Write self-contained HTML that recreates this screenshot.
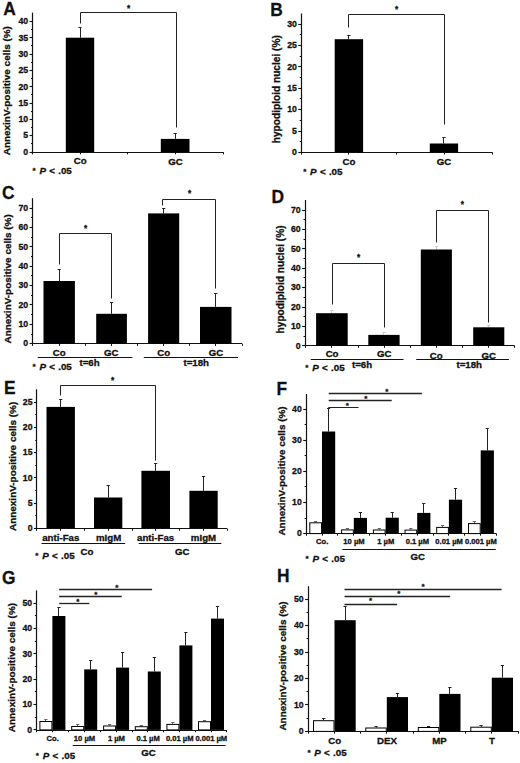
<!DOCTYPE html>
<html><head><meta charset="utf-8"><title>Figure</title>
<style>
html,body{margin:0;padding:0;background:#fff;}
body{width:520px;height:763px;overflow:hidden;}
svg{display:block;}
text{font-family:"Liberation Sans",sans-serif;font-weight:bold;fill:#111;stroke:#111;stroke-width:0.3px;}
</style></head>
<body>
<svg width="520" height="763" viewBox="0 0 520 763">
<rect width="520" height="763" fill="#fff"/>
<text transform="translate(3.20,14.90) scale(0.93,1)" font-size="18.7">A</text>
<line x1="32.50" y1="12.60" x2="32.50" y2="152.60" stroke="#111" stroke-width="1.2"/>
<line x1="29.60" y1="152.50" x2="32.60" y2="152.50" stroke="#111" stroke-width="1.1"/>
<text transform="translate(28.20,154.80) scale(0.97,1)" font-size="9.0" text-anchor="end">0</text>
<line x1="29.60" y1="135.50" x2="32.60" y2="135.50" stroke="#111" stroke-width="1.1"/>
<text transform="translate(28.20,138.47) scale(0.97,1)" font-size="9.0" text-anchor="end">5</text>
<line x1="29.60" y1="119.50" x2="32.60" y2="119.50" stroke="#111" stroke-width="1.1"/>
<text transform="translate(28.20,122.15) scale(0.97,1)" font-size="9.0" text-anchor="end">10</text>
<line x1="29.60" y1="103.50" x2="32.60" y2="103.50" stroke="#111" stroke-width="1.1"/>
<text transform="translate(28.20,105.83) scale(0.97,1)" font-size="9.0" text-anchor="end">15</text>
<line x1="29.60" y1="86.50" x2="32.60" y2="86.50" stroke="#111" stroke-width="1.1"/>
<text transform="translate(28.20,89.50) scale(0.97,1)" font-size="9.0" text-anchor="end">20</text>
<line x1="29.60" y1="70.50" x2="32.60" y2="70.50" stroke="#111" stroke-width="1.1"/>
<text transform="translate(28.20,73.18) scale(0.97,1)" font-size="9.0" text-anchor="end">25</text>
<line x1="29.60" y1="54.50" x2="32.60" y2="54.50" stroke="#111" stroke-width="1.1"/>
<text transform="translate(28.20,56.85) scale(0.97,1)" font-size="9.0" text-anchor="end">30</text>
<line x1="29.60" y1="37.50" x2="32.60" y2="37.50" stroke="#111" stroke-width="1.1"/>
<text transform="translate(28.20,40.53) scale(0.97,1)" font-size="9.0" text-anchor="end">35</text>
<line x1="29.60" y1="21.50" x2="32.60" y2="21.50" stroke="#111" stroke-width="1.1"/>
<text transform="translate(28.20,24.20) scale(0.97,1)" font-size="9.0" text-anchor="end">40</text>
<line x1="31.00" y1="143.50" x2="32.60" y2="143.50" stroke="#111" stroke-width="1.0"/>
<line x1="31.00" y1="127.50" x2="32.60" y2="127.50" stroke="#111" stroke-width="1.0"/>
<line x1="31.00" y1="111.50" x2="32.60" y2="111.50" stroke="#111" stroke-width="1.0"/>
<line x1="31.00" y1="94.50" x2="32.60" y2="94.50" stroke="#111" stroke-width="1.0"/>
<line x1="31.00" y1="78.50" x2="32.60" y2="78.50" stroke="#111" stroke-width="1.0"/>
<line x1="31.00" y1="62.50" x2="32.60" y2="62.50" stroke="#111" stroke-width="1.0"/>
<line x1="31.00" y1="45.50" x2="32.60" y2="45.50" stroke="#111" stroke-width="1.0"/>
<line x1="31.00" y1="29.50" x2="32.60" y2="29.50" stroke="#111" stroke-width="1.0"/>
<line x1="32.60" y1="152.50" x2="223.10" y2="152.50" stroke="#111" stroke-width="1.2"/>
<line x1="32.50" y1="152.10" x2="32.50" y2="154.30" stroke="#111" stroke-width="1.0"/>
<line x1="80.50" y1="152.10" x2="80.50" y2="154.30" stroke="#111" stroke-width="1.0"/>
<line x1="127.50" y1="152.10" x2="127.50" y2="154.30" stroke="#111" stroke-width="1.0"/>
<line x1="175.50" y1="152.10" x2="175.50" y2="154.30" stroke="#111" stroke-width="1.0"/>
<line x1="223.50" y1="152.10" x2="223.50" y2="154.30" stroke="#111" stroke-width="1.0"/>
<line x1="80.50" y1="27.70" x2="80.50" y2="37.70" stroke="#222" stroke-width="1.0"/>
<line x1="78.40" y1="27.50" x2="81.60" y2="27.50" stroke="#222" stroke-width="1.0"/>
<rect x="65.80" y="37.70" width="28.40" height="114.40" fill="#000"/>
<line x1="175.50" y1="133.00" x2="175.50" y2="138.90" stroke="#222" stroke-width="1.0"/>
<line x1="173.55" y1="133.50" x2="176.75" y2="133.50" stroke="#222" stroke-width="1.0"/>
<rect x="160.80" y="138.90" width="28.70" height="13.20" fill="#000"/>
<path d="M80.5,23.5 V12.5 H176.5 V127.5" fill="none" stroke="#222" stroke-width="1.0"/>
<text x="128.50" y="10.74" font-size="8.2" text-anchor="middle">*</text>
<text x="80.20" y="164.30" font-size="9.7" text-anchor="middle">Co</text>
<text x="175.40" y="164.50" font-size="9.7" text-anchor="middle">GC</text>
<text x="32.50" y="173.30" font-size="8.0" text-anchor="start">*</text>
<text x="39.40" y="174.20" font-size="9.8" font-style="italic">P</text>
<text x="49.20" y="174.20" font-size="9.8" text-anchor="start">&lt;</text>
<text x="58.20" y="174.20" font-size="9.8" text-anchor="start">.05</text>
<text transform="translate(10.30,155.30) rotate(-90)" font-size="9.95">AnnexinV-positive cells (%)</text>
<text transform="translate(270.30,16.10) scale(0.93,1)" font-size="18.7">B</text>
<line x1="301.50" y1="13.50" x2="301.50" y2="152.90" stroke="#111" stroke-width="1.2"/>
<line x1="298.30" y1="152.50" x2="301.30" y2="152.50" stroke="#111" stroke-width="1.1"/>
<text transform="translate(296.90,155.10) scale(0.97,1)" font-size="9.0" text-anchor="end">0</text>
<line x1="298.30" y1="131.50" x2="301.30" y2="131.50" stroke="#111" stroke-width="1.1"/>
<text transform="translate(296.90,133.73) scale(0.97,1)" font-size="9.0" text-anchor="end">5</text>
<line x1="298.30" y1="109.50" x2="301.30" y2="109.50" stroke="#111" stroke-width="1.1"/>
<text transform="translate(296.90,112.37) scale(0.97,1)" font-size="9.0" text-anchor="end">10</text>
<line x1="298.30" y1="88.50" x2="301.30" y2="88.50" stroke="#111" stroke-width="1.1"/>
<text transform="translate(296.90,91.00) scale(0.97,1)" font-size="9.0" text-anchor="end">15</text>
<line x1="298.30" y1="66.50" x2="301.30" y2="66.50" stroke="#111" stroke-width="1.1"/>
<text transform="translate(296.90,69.63) scale(0.97,1)" font-size="9.0" text-anchor="end">20</text>
<line x1="298.30" y1="45.50" x2="301.30" y2="45.50" stroke="#111" stroke-width="1.1"/>
<text transform="translate(296.90,48.27) scale(0.97,1)" font-size="9.0" text-anchor="end">25</text>
<line x1="298.30" y1="24.50" x2="301.30" y2="24.50" stroke="#111" stroke-width="1.1"/>
<text transform="translate(296.90,26.90) scale(0.97,1)" font-size="9.0" text-anchor="end">30</text>
<line x1="299.70" y1="141.50" x2="301.30" y2="141.50" stroke="#111" stroke-width="1.0"/>
<line x1="299.70" y1="120.50" x2="301.30" y2="120.50" stroke="#111" stroke-width="1.0"/>
<line x1="299.70" y1="98.50" x2="301.30" y2="98.50" stroke="#111" stroke-width="1.0"/>
<line x1="299.70" y1="77.50" x2="301.30" y2="77.50" stroke="#111" stroke-width="1.0"/>
<line x1="299.70" y1="56.50" x2="301.30" y2="56.50" stroke="#111" stroke-width="1.0"/>
<line x1="299.70" y1="34.50" x2="301.30" y2="34.50" stroke="#111" stroke-width="1.0"/>
<line x1="301.30" y1="152.50" x2="492.30" y2="152.50" stroke="#111" stroke-width="1.2"/>
<line x1="301.50" y1="152.40" x2="301.50" y2="154.60" stroke="#111" stroke-width="1.0"/>
<line x1="348.50" y1="152.40" x2="348.50" y2="154.60" stroke="#111" stroke-width="1.0"/>
<line x1="396.50" y1="152.40" x2="396.50" y2="154.60" stroke="#111" stroke-width="1.0"/>
<line x1="444.50" y1="152.40" x2="444.50" y2="154.60" stroke="#111" stroke-width="1.0"/>
<line x1="492.50" y1="152.40" x2="492.50" y2="154.60" stroke="#111" stroke-width="1.0"/>
<line x1="348.50" y1="35.70" x2="348.50" y2="39.20" stroke="#222" stroke-width="1.0"/>
<line x1="347.30" y1="35.50" x2="350.50" y2="35.50" stroke="#222" stroke-width="1.0"/>
<rect x="334.70" y="39.20" width="28.40" height="113.20" fill="#000"/>
<line x1="443.50" y1="137.90" x2="443.50" y2="143.50" stroke="#222" stroke-width="1.0"/>
<line x1="442.35" y1="137.50" x2="445.55" y2="137.50" stroke="#222" stroke-width="1.0"/>
<rect x="429.80" y="143.50" width="28.30" height="8.90" fill="#000"/>
<path d="M348.5,27.5 V14.5 H444.5 V124.5" fill="none" stroke="#222" stroke-width="1.0"/>
<text x="396.50" y="11.54" font-size="8.2" text-anchor="middle">*</text>
<text x="348.90" y="164.60" font-size="9.7" text-anchor="middle">Co</text>
<text x="444.00" y="164.80" font-size="9.7" text-anchor="middle">GC</text>
<text x="303.20" y="174.10" font-size="8.0" text-anchor="start">*</text>
<text x="310.10" y="175.00" font-size="9.8" font-style="italic">P</text>
<text x="319.90" y="175.00" font-size="9.8" text-anchor="start">&lt;</text>
<text x="328.90" y="175.00" font-size="9.8" text-anchor="start">.05</text>
<text transform="translate(279.70,143.20) rotate(-90)" font-size="10.15">hypodiploid nuclei (%)</text>
<text transform="translate(2.10,198.50) scale(0.93,1)" font-size="18.7">C</text>
<line x1="32.50" y1="198.20" x2="32.50" y2="344.20" stroke="#111" stroke-width="1.2"/>
<line x1="29.60" y1="343.50" x2="32.60" y2="343.50" stroke="#111" stroke-width="1.1"/>
<text transform="translate(28.20,346.40) scale(0.97,1)" font-size="9.0" text-anchor="end">0</text>
<line x1="29.60" y1="324.50" x2="32.60" y2="324.50" stroke="#111" stroke-width="1.1"/>
<text transform="translate(28.20,327.04) scale(0.97,1)" font-size="9.0" text-anchor="end">10</text>
<line x1="29.60" y1="304.50" x2="32.60" y2="304.50" stroke="#111" stroke-width="1.1"/>
<text transform="translate(28.20,307.69) scale(0.97,1)" font-size="9.0" text-anchor="end">20</text>
<line x1="29.60" y1="285.50" x2="32.60" y2="285.50" stroke="#111" stroke-width="1.1"/>
<text transform="translate(28.20,288.33) scale(0.97,1)" font-size="9.0" text-anchor="end">30</text>
<line x1="29.60" y1="266.50" x2="32.60" y2="266.50" stroke="#111" stroke-width="1.1"/>
<text transform="translate(28.20,268.97) scale(0.97,1)" font-size="9.0" text-anchor="end">40</text>
<line x1="29.60" y1="246.50" x2="32.60" y2="246.50" stroke="#111" stroke-width="1.1"/>
<text transform="translate(28.20,249.61) scale(0.97,1)" font-size="9.0" text-anchor="end">50</text>
<line x1="29.60" y1="227.50" x2="32.60" y2="227.50" stroke="#111" stroke-width="1.1"/>
<text transform="translate(28.20,230.26) scale(0.97,1)" font-size="9.0" text-anchor="end">60</text>
<line x1="29.60" y1="208.50" x2="32.60" y2="208.50" stroke="#111" stroke-width="1.1"/>
<text transform="translate(28.20,210.90) scale(0.97,1)" font-size="9.0" text-anchor="end">70</text>
<line x1="31.00" y1="334.50" x2="32.60" y2="334.50" stroke="#111" stroke-width="1.0"/>
<line x1="31.00" y1="314.50" x2="32.60" y2="314.50" stroke="#111" stroke-width="1.0"/>
<line x1="31.00" y1="295.50" x2="32.60" y2="295.50" stroke="#111" stroke-width="1.0"/>
<line x1="31.00" y1="275.50" x2="32.60" y2="275.50" stroke="#111" stroke-width="1.0"/>
<line x1="31.00" y1="256.50" x2="32.60" y2="256.50" stroke="#111" stroke-width="1.0"/>
<line x1="31.00" y1="237.50" x2="32.60" y2="237.50" stroke="#111" stroke-width="1.0"/>
<line x1="31.00" y1="217.50" x2="32.60" y2="217.50" stroke="#111" stroke-width="1.0"/>
<line x1="32.60" y1="343.50" x2="242.00" y2="343.50" stroke="#111" stroke-width="1.2"/>
<line x1="32.50" y1="343.70" x2="32.50" y2="345.90" stroke="#111" stroke-width="1.0"/>
<line x1="59.50" y1="343.70" x2="59.50" y2="345.90" stroke="#111" stroke-width="1.0"/>
<line x1="85.50" y1="343.70" x2="85.50" y2="345.90" stroke="#111" stroke-width="1.0"/>
<line x1="111.50" y1="343.70" x2="111.50" y2="345.90" stroke="#111" stroke-width="1.0"/>
<line x1="137.50" y1="343.70" x2="137.50" y2="345.90" stroke="#111" stroke-width="1.0"/>
<line x1="163.50" y1="343.70" x2="163.50" y2="345.90" stroke="#111" stroke-width="1.0"/>
<line x1="189.50" y1="343.70" x2="189.50" y2="345.90" stroke="#111" stroke-width="1.0"/>
<line x1="215.50" y1="343.70" x2="215.50" y2="345.90" stroke="#111" stroke-width="1.0"/>
<line x1="242.50" y1="343.70" x2="242.50" y2="345.90" stroke="#111" stroke-width="1.0"/>
<line x1="59.50" y1="269.50" x2="59.50" y2="281.00" stroke="#222" stroke-width="1.0"/>
<line x1="57.60" y1="269.50" x2="60.80" y2="269.50" stroke="#222" stroke-width="1.0"/>
<rect x="43.50" y="281.00" width="31.40" height="62.70" fill="#000"/>
<line x1="111.50" y1="302.00" x2="111.50" y2="313.80" stroke="#222" stroke-width="1.0"/>
<line x1="109.95" y1="302.50" x2="113.15" y2="302.50" stroke="#222" stroke-width="1.0"/>
<rect x="96.20" y="313.80" width="30.70" height="29.90" fill="#000"/>
<line x1="163.50" y1="208.30" x2="163.50" y2="213.40" stroke="#222" stroke-width="1.0"/>
<line x1="162.05" y1="208.50" x2="165.25" y2="208.50" stroke="#222" stroke-width="1.0"/>
<rect x="148.10" y="213.40" width="31.10" height="130.30" fill="#000"/>
<line x1="215.50" y1="293.80" x2="215.50" y2="306.90" stroke="#222" stroke-width="1.0"/>
<line x1="214.15" y1="293.50" x2="217.35" y2="293.50" stroke="#222" stroke-width="1.0"/>
<rect x="200.00" y="306.90" width="31.50" height="36.80" fill="#000"/>
<path d="M59.5,264.5 V233.5 H111.5 V298.5" fill="none" stroke="#222" stroke-width="1.0"/>
<text x="85.60" y="231.34" font-size="8.2" text-anchor="middle">*</text>
<path d="M162.5,205.5 V199.5 H215.5 V288.5" fill="none" stroke="#222" stroke-width="1.0"/>
<text x="189.50" y="196.24" font-size="8.2" text-anchor="middle">*</text>
<text x="59.20" y="355.80" font-size="9.7" text-anchor="middle">Co</text>
<text x="111.20" y="355.80" font-size="9.7" text-anchor="middle">GC</text>
<text x="163.70" y="355.80" font-size="9.7" text-anchor="middle">Co</text>
<text x="216.00" y="355.80" font-size="9.7" text-anchor="middle">GC</text>
<line x1="37.70" y1="357.50" x2="132.40" y2="357.50" stroke="#111" stroke-width="1.1"/>
<line x1="143.80" y1="357.50" x2="238.00" y2="357.50" stroke="#111" stroke-width="1.1"/>
<text x="89.60" y="365.80" font-size="9.7" text-anchor="middle">t=6h</text>
<text x="196.20" y="366.30" font-size="9.7" text-anchor="middle">t=18h</text>
<text x="32.50" y="368.90" font-size="8.0" text-anchor="start">*</text>
<text x="39.40" y="369.80" font-size="9.8" font-style="italic">P</text>
<text x="49.20" y="369.80" font-size="9.8" text-anchor="start">&lt;</text>
<text x="58.20" y="369.80" font-size="9.8" text-anchor="start">.05</text>
<text transform="translate(10.60,343.50) rotate(-90)" font-size="9.95">AnnexinV-positive cells (%)</text>
<text transform="translate(271.60,202.60) scale(0.93,1)" font-size="18.7">D</text>
<line x1="305.50" y1="200.00" x2="305.50" y2="346.30" stroke="#111" stroke-width="1.2"/>
<line x1="302.10" y1="345.50" x2="305.10" y2="345.50" stroke="#111" stroke-width="1.1"/>
<text transform="translate(300.70,348.50) scale(0.97,1)" font-size="9.0" text-anchor="end">0</text>
<line x1="302.10" y1="326.50" x2="305.10" y2="326.50" stroke="#111" stroke-width="1.1"/>
<text transform="translate(300.70,329.10) scale(0.97,1)" font-size="9.0" text-anchor="end">10</text>
<line x1="302.10" y1="307.50" x2="305.10" y2="307.50" stroke="#111" stroke-width="1.1"/>
<text transform="translate(300.70,309.70) scale(0.97,1)" font-size="9.0" text-anchor="end">20</text>
<line x1="302.10" y1="287.50" x2="305.10" y2="287.50" stroke="#111" stroke-width="1.1"/>
<text transform="translate(300.70,290.30) scale(0.97,1)" font-size="9.0" text-anchor="end">30</text>
<line x1="302.10" y1="268.50" x2="305.10" y2="268.50" stroke="#111" stroke-width="1.1"/>
<text transform="translate(300.70,270.90) scale(0.97,1)" font-size="9.0" text-anchor="end">40</text>
<line x1="302.10" y1="248.50" x2="305.10" y2="248.50" stroke="#111" stroke-width="1.1"/>
<text transform="translate(300.70,251.50) scale(0.97,1)" font-size="9.0" text-anchor="end">50</text>
<line x1="302.10" y1="229.50" x2="305.10" y2="229.50" stroke="#111" stroke-width="1.1"/>
<text transform="translate(300.70,232.10) scale(0.97,1)" font-size="9.0" text-anchor="end">60</text>
<line x1="302.10" y1="210.50" x2="305.10" y2="210.50" stroke="#111" stroke-width="1.1"/>
<text transform="translate(300.70,212.70) scale(0.97,1)" font-size="9.0" text-anchor="end">70</text>
<line x1="303.50" y1="336.50" x2="305.10" y2="336.50" stroke="#111" stroke-width="1.0"/>
<line x1="303.50" y1="316.50" x2="305.10" y2="316.50" stroke="#111" stroke-width="1.0"/>
<line x1="303.50" y1="297.50" x2="305.10" y2="297.50" stroke="#111" stroke-width="1.0"/>
<line x1="303.50" y1="277.50" x2="305.10" y2="277.50" stroke="#111" stroke-width="1.0"/>
<line x1="303.50" y1="258.50" x2="305.10" y2="258.50" stroke="#111" stroke-width="1.0"/>
<line x1="303.50" y1="239.50" x2="305.10" y2="239.50" stroke="#111" stroke-width="1.0"/>
<line x1="303.50" y1="219.50" x2="305.10" y2="219.50" stroke="#111" stroke-width="1.0"/>
<line x1="305.10" y1="345.50" x2="514.70" y2="345.50" stroke="#111" stroke-width="1.2"/>
<line x1="305.50" y1="345.60" x2="305.50" y2="347.80" stroke="#111" stroke-width="1.0"/>
<line x1="331.50" y1="345.60" x2="331.50" y2="347.80" stroke="#111" stroke-width="1.0"/>
<line x1="358.50" y1="345.60" x2="358.50" y2="347.80" stroke="#111" stroke-width="1.0"/>
<line x1="384.50" y1="345.60" x2="384.50" y2="347.80" stroke="#111" stroke-width="1.0"/>
<line x1="410.50" y1="345.60" x2="410.50" y2="347.80" stroke="#111" stroke-width="1.0"/>
<line x1="436.50" y1="345.60" x2="436.50" y2="347.80" stroke="#111" stroke-width="1.0"/>
<line x1="462.50" y1="345.60" x2="462.50" y2="347.80" stroke="#111" stroke-width="1.0"/>
<line x1="488.50" y1="345.60" x2="488.50" y2="347.80" stroke="#111" stroke-width="1.0"/>
<line x1="514.50" y1="345.60" x2="514.50" y2="347.80" stroke="#111" stroke-width="1.0"/>
<line x1="331.50" y1="310.30" x2="331.50" y2="313.20" stroke="#ccc" stroke-width="1.0"/>
<line x1="330.30" y1="310.50" x2="333.50" y2="310.50" stroke="#ccc" stroke-width="1.0"/>
<rect x="316.10" y="313.20" width="31.60" height="32.60" fill="#000"/>
<line x1="383.50" y1="332.30" x2="383.50" y2="334.90" stroke="#ccc" stroke-width="1.0"/>
<line x1="382.35" y1="332.50" x2="385.55" y2="332.50" stroke="#ccc" stroke-width="1.0"/>
<rect x="368.30" y="334.90" width="31.30" height="10.90" fill="#000"/>
<line x1="436.50" y1="246.50" x2="436.50" y2="249.50" stroke="#ccc" stroke-width="1.0"/>
<line x1="434.75" y1="246.50" x2="437.95" y2="246.50" stroke="#ccc" stroke-width="1.0"/>
<rect x="420.80" y="249.50" width="31.10" height="96.30" fill="#000"/>
<line x1="488.50" y1="325.20" x2="488.50" y2="327.30" stroke="#ccc" stroke-width="1.0"/>
<line x1="487.15" y1="325.50" x2="490.35" y2="325.50" stroke="#ccc" stroke-width="1.0"/>
<rect x="473.20" y="327.30" width="31.10" height="18.50" fill="#000"/>
<path d="M332.5,304.5 V263.5 H384.5 V327.5" fill="none" stroke="#222" stroke-width="1.0"/>
<text x="358.70" y="260.24" font-size="8.2" text-anchor="middle">*</text>
<path d="M436.5,242.5 V210.5 H488.5 V322.5" fill="none" stroke="#222" stroke-width="1.0"/>
<text x="462.30" y="206.94" font-size="8.2" text-anchor="middle">*</text>
<text x="332.10" y="357.40" font-size="9.7" text-anchor="middle">Co</text>
<text x="384.20" y="357.40" font-size="9.7" text-anchor="middle">GC</text>
<text x="436.30" y="358.50" font-size="9.7" text-anchor="middle">Co</text>
<text x="488.80" y="358.50" font-size="9.7" text-anchor="middle">GC</text>
<line x1="310.80" y1="359.50" x2="403.50" y2="359.50" stroke="#111" stroke-width="1.1"/>
<line x1="416.20" y1="359.50" x2="508.90" y2="359.50" stroke="#111" stroke-width="1.1"/>
<text x="362.10" y="368.10" font-size="9.7" text-anchor="middle">t=6h</text>
<text x="469.20" y="368.20" font-size="9.7" text-anchor="middle">t=18h</text>
<text x="305.30" y="370.30" font-size="8.0" text-anchor="start">*</text>
<text x="312.20" y="371.20" font-size="9.8" font-style="italic">P</text>
<text x="322.00" y="371.20" font-size="9.8" text-anchor="start">&lt;</text>
<text x="331.00" y="371.20" font-size="9.8" text-anchor="start">.05</text>
<text transform="translate(284.00,333.40) rotate(-90)" font-size="10.15">hypodiploid nuclei (%)</text>
<text transform="translate(3.90,393.70) scale(0.93,1)" font-size="18.7">E</text>
<line x1="36.50" y1="389.30" x2="36.50" y2="528.70" stroke="#111" stroke-width="1.2"/>
<line x1="33.90" y1="528.50" x2="36.90" y2="528.50" stroke="#111" stroke-width="1.1"/>
<text transform="translate(32.50,530.90) scale(0.97,1)" font-size="9.0" text-anchor="end">0</text>
<line x1="33.90" y1="503.50" x2="36.90" y2="503.50" stroke="#111" stroke-width="1.1"/>
<text transform="translate(32.50,505.72) scale(0.97,1)" font-size="9.0" text-anchor="end">5</text>
<line x1="33.90" y1="477.50" x2="36.90" y2="477.50" stroke="#111" stroke-width="1.1"/>
<text transform="translate(32.50,480.54) scale(0.97,1)" font-size="9.0" text-anchor="end">10</text>
<line x1="33.90" y1="452.50" x2="36.90" y2="452.50" stroke="#111" stroke-width="1.1"/>
<text transform="translate(32.50,455.36) scale(0.97,1)" font-size="9.0" text-anchor="end">15</text>
<line x1="33.90" y1="427.50" x2="36.90" y2="427.50" stroke="#111" stroke-width="1.1"/>
<text transform="translate(32.50,430.18) scale(0.97,1)" font-size="9.0" text-anchor="end">20</text>
<line x1="33.90" y1="402.50" x2="36.90" y2="402.50" stroke="#111" stroke-width="1.1"/>
<text transform="translate(32.50,405.00) scale(0.97,1)" font-size="9.0" text-anchor="end">25</text>
<line x1="35.30" y1="515.50" x2="36.90" y2="515.50" stroke="#111" stroke-width="1.0"/>
<line x1="35.30" y1="490.50" x2="36.90" y2="490.50" stroke="#111" stroke-width="1.0"/>
<line x1="35.30" y1="465.50" x2="36.90" y2="465.50" stroke="#111" stroke-width="1.0"/>
<line x1="35.30" y1="440.50" x2="36.90" y2="440.50" stroke="#111" stroke-width="1.0"/>
<line x1="35.30" y1="414.50" x2="36.90" y2="414.50" stroke="#111" stroke-width="1.0"/>
<line x1="36.90" y1="528.50" x2="227.00" y2="528.50" stroke="#111" stroke-width="1.2"/>
<line x1="36.50" y1="528.60" x2="36.50" y2="530.80" stroke="#111" stroke-width="1.0"/>
<line x1="60.50" y1="528.60" x2="60.50" y2="530.80" stroke="#111" stroke-width="1.0"/>
<line x1="84.50" y1="528.60" x2="84.50" y2="530.80" stroke="#111" stroke-width="1.0"/>
<line x1="108.50" y1="528.60" x2="108.50" y2="530.80" stroke="#111" stroke-width="1.0"/>
<line x1="132.50" y1="528.60" x2="132.50" y2="530.80" stroke="#111" stroke-width="1.0"/>
<line x1="155.50" y1="528.60" x2="155.50" y2="530.80" stroke="#111" stroke-width="1.0"/>
<line x1="179.50" y1="528.60" x2="179.50" y2="530.80" stroke="#111" stroke-width="1.0"/>
<line x1="203.50" y1="528.60" x2="203.50" y2="530.80" stroke="#111" stroke-width="1.0"/>
<line x1="227.50" y1="528.60" x2="227.50" y2="530.80" stroke="#111" stroke-width="1.0"/>
<line x1="60.50" y1="399.70" x2="60.50" y2="406.90" stroke="#222" stroke-width="1.0"/>
<line x1="59.10" y1="399.50" x2="62.30" y2="399.50" stroke="#222" stroke-width="1.0"/>
<rect x="46.50" y="406.90" width="28.40" height="121.30" fill="#000"/>
<line x1="108.50" y1="485.50" x2="108.50" y2="497.50" stroke="#222" stroke-width="1.0"/>
<line x1="106.55" y1="485.50" x2="109.75" y2="485.50" stroke="#222" stroke-width="1.0"/>
<rect x="94.00" y="497.50" width="28.30" height="30.70" fill="#000"/>
<line x1="155.50" y1="463.90" x2="155.50" y2="470.80" stroke="#222" stroke-width="1.0"/>
<line x1="154.10" y1="463.50" x2="157.30" y2="463.50" stroke="#222" stroke-width="1.0"/>
<rect x="141.40" y="470.80" width="28.60" height="57.40" fill="#000"/>
<line x1="203.50" y1="476.90" x2="203.50" y2="490.80" stroke="#222" stroke-width="1.0"/>
<line x1="201.95" y1="476.50" x2="205.15" y2="476.50" stroke="#222" stroke-width="1.0"/>
<rect x="189.40" y="490.80" width="28.30" height="37.40" fill="#000"/>
<path d="M60.5,395.5 V385.5 H155.5 V460.5" fill="none" stroke="#222" stroke-width="1.0"/>
<text x="112.70" y="382.84" font-size="8.2" text-anchor="middle">*</text>
<text x="60.80" y="541.00" font-size="9.7" text-anchor="middle">anti-Fas</text>
<text x="108.60" y="541.00" font-size="9.7" text-anchor="middle">mIgM</text>
<text x="155.60" y="541.00" font-size="9.7" text-anchor="middle">anti-Fas</text>
<text x="203.50" y="541.00" font-size="9.7" text-anchor="middle">mIgM</text>
<line x1="41.50" y1="543.50" x2="125.10" y2="543.50" stroke="#111" stroke-width="1.1"/>
<line x1="138.80" y1="543.50" x2="221.30" y2="543.50" stroke="#111" stroke-width="1.1"/>
<text x="87.00" y="554.60" font-size="9.7" text-anchor="middle">Co</text>
<text x="182.30" y="554.50" font-size="9.7" text-anchor="middle">GC</text>
<text x="35.30" y="557.90" font-size="8.0" text-anchor="start">*</text>
<text x="42.20" y="558.80" font-size="9.8" font-style="italic">P</text>
<text x="52.00" y="558.80" font-size="9.8" text-anchor="start">&lt;</text>
<text x="61.00" y="558.80" font-size="9.8" text-anchor="start">.05</text>
<text transform="translate(15.50,531.00) rotate(-90)" font-size="9.95">AnnexinV-positive cells (%)</text>
<text transform="translate(276.60,394.50) scale(0.93,1)" font-size="18.7">F</text>
<line x1="306.50" y1="394.00" x2="306.50" y2="534.10" stroke="#111" stroke-width="1.2"/>
<line x1="303.20" y1="533.50" x2="306.20" y2="533.50" stroke="#111" stroke-width="1.1"/>
<text transform="translate(301.80,536.30) scale(0.97,1)" font-size="9.0" text-anchor="end">0</text>
<line x1="303.20" y1="502.50" x2="306.20" y2="502.50" stroke="#111" stroke-width="1.1"/>
<text transform="translate(301.80,505.20) scale(0.97,1)" font-size="9.0" text-anchor="end">10</text>
<line x1="303.20" y1="471.50" x2="306.20" y2="471.50" stroke="#111" stroke-width="1.1"/>
<text transform="translate(301.80,474.10) scale(0.97,1)" font-size="9.0" text-anchor="end">20</text>
<line x1="303.20" y1="440.50" x2="306.20" y2="440.50" stroke="#111" stroke-width="1.1"/>
<text transform="translate(301.80,443.00) scale(0.97,1)" font-size="9.0" text-anchor="end">30</text>
<line x1="303.20" y1="409.50" x2="306.20" y2="409.50" stroke="#111" stroke-width="1.1"/>
<text transform="translate(301.80,411.90) scale(0.97,1)" font-size="9.0" text-anchor="end">40</text>
<line x1="304.60" y1="518.50" x2="306.20" y2="518.50" stroke="#111" stroke-width="1.0"/>
<line x1="304.60" y1="486.50" x2="306.20" y2="486.50" stroke="#111" stroke-width="1.0"/>
<line x1="304.60" y1="455.50" x2="306.20" y2="455.50" stroke="#111" stroke-width="1.0"/>
<line x1="304.60" y1="424.50" x2="306.20" y2="424.50" stroke="#111" stroke-width="1.0"/>
<line x1="306.20" y1="533.50" x2="496.40" y2="533.50" stroke="#111" stroke-width="1.2"/>
<line x1="306.50" y1="533.50" x2="306.50" y2="535.70" stroke="#111" stroke-width="1.0"/>
<line x1="322.50" y1="533.50" x2="322.50" y2="535.70" stroke="#111" stroke-width="1.0"/>
<line x1="337.50" y1="533.50" x2="337.50" y2="535.70" stroke="#111" stroke-width="1.0"/>
<line x1="353.50" y1="533.50" x2="353.50" y2="535.70" stroke="#111" stroke-width="1.0"/>
<line x1="369.50" y1="533.50" x2="369.50" y2="535.70" stroke="#111" stroke-width="1.0"/>
<line x1="385.50" y1="533.50" x2="385.50" y2="535.70" stroke="#111" stroke-width="1.0"/>
<line x1="401.50" y1="533.50" x2="401.50" y2="535.70" stroke="#111" stroke-width="1.0"/>
<line x1="417.50" y1="533.50" x2="417.50" y2="535.70" stroke="#111" stroke-width="1.0"/>
<line x1="433.50" y1="533.50" x2="433.50" y2="535.70" stroke="#111" stroke-width="1.0"/>
<line x1="448.50" y1="533.50" x2="448.50" y2="535.70" stroke="#111" stroke-width="1.0"/>
<line x1="464.50" y1="533.50" x2="464.50" y2="535.70" stroke="#111" stroke-width="1.0"/>
<line x1="480.50" y1="533.50" x2="480.50" y2="535.70" stroke="#111" stroke-width="1.0"/>
<line x1="496.50" y1="533.50" x2="496.50" y2="535.70" stroke="#111" stroke-width="1.0"/>
<line x1="315.50" y1="521.10" x2="315.50" y2="522.30" stroke="#666" stroke-width="1.0"/>
<line x1="314.05" y1="521.50" x2="317.25" y2="521.50" stroke="#666" stroke-width="1.0"/>
<rect x="309.80" y="522.80" width="11.70" height="10.80" fill="#fff" stroke="#000" stroke-width="1.0"/>
<line x1="328.50" y1="408.80" x2="328.50" y2="431.50" stroke="#222" stroke-width="1.0"/>
<line x1="327.00" y1="408.50" x2="330.20" y2="408.50" stroke="#222" stroke-width="1.0"/>
<rect x="322.00" y="431.50" width="13.20" height="102.10" fill="#000"/>
<line x1="347.50" y1="528.20" x2="347.50" y2="529.40" stroke="#666" stroke-width="1.0"/>
<line x1="345.85" y1="528.50" x2="349.05" y2="528.50" stroke="#666" stroke-width="1.0"/>
<rect x="341.60" y="529.90" width="11.70" height="3.70" fill="#fff" stroke="#000" stroke-width="1.0"/>
<line x1="360.50" y1="512.40" x2="360.50" y2="517.90" stroke="#222" stroke-width="1.0"/>
<line x1="358.80" y1="512.50" x2="362.00" y2="512.50" stroke="#222" stroke-width="1.0"/>
<rect x="353.80" y="517.90" width="13.20" height="15.70" fill="#000"/>
<line x1="379.50" y1="528.30" x2="379.50" y2="529.50" stroke="#666" stroke-width="1.0"/>
<line x1="377.65" y1="528.50" x2="380.85" y2="528.50" stroke="#666" stroke-width="1.0"/>
<rect x="373.40" y="530.00" width="11.70" height="3.60" fill="#fff" stroke="#000" stroke-width="1.0"/>
<line x1="392.50" y1="512.60" x2="392.50" y2="517.70" stroke="#222" stroke-width="1.0"/>
<line x1="390.60" y1="512.50" x2="393.80" y2="512.50" stroke="#222" stroke-width="1.0"/>
<rect x="385.60" y="517.70" width="13.20" height="15.90" fill="#000"/>
<line x1="410.50" y1="528.40" x2="410.50" y2="529.60" stroke="#666" stroke-width="1.0"/>
<line x1="409.25" y1="528.50" x2="412.45" y2="528.50" stroke="#666" stroke-width="1.0"/>
<rect x="405.00" y="530.10" width="11.70" height="3.50" fill="#fff" stroke="#000" stroke-width="1.0"/>
<line x1="423.50" y1="503.50" x2="423.50" y2="512.90" stroke="#222" stroke-width="1.0"/>
<line x1="422.20" y1="503.50" x2="425.40" y2="503.50" stroke="#222" stroke-width="1.0"/>
<rect x="417.20" y="512.90" width="13.20" height="20.70" fill="#000"/>
<line x1="442.50" y1="525.70" x2="442.50" y2="526.90" stroke="#666" stroke-width="1.0"/>
<line x1="440.95" y1="525.50" x2="444.15" y2="525.50" stroke="#666" stroke-width="1.0"/>
<rect x="436.70" y="527.40" width="11.70" height="6.20" fill="#fff" stroke="#000" stroke-width="1.0"/>
<line x1="455.50" y1="488.70" x2="455.50" y2="499.70" stroke="#222" stroke-width="1.0"/>
<line x1="453.90" y1="488.50" x2="457.10" y2="488.50" stroke="#222" stroke-width="1.0"/>
<rect x="448.90" y="499.70" width="13.20" height="33.90" fill="#000"/>
<line x1="474.50" y1="521.90" x2="474.50" y2="523.10" stroke="#666" stroke-width="1.0"/>
<line x1="472.75" y1="521.50" x2="475.95" y2="521.50" stroke="#666" stroke-width="1.0"/>
<rect x="468.50" y="523.60" width="11.70" height="10.00" fill="#fff" stroke="#000" stroke-width="1.0"/>
<line x1="487.50" y1="428.10" x2="487.50" y2="450.40" stroke="#222" stroke-width="1.0"/>
<line x1="485.70" y1="428.50" x2="488.90" y2="428.50" stroke="#222" stroke-width="1.0"/>
<rect x="480.70" y="450.40" width="13.20" height="83.20" fill="#000"/>
<path d="M328.5,408.5 V407.5 H358.5" fill="none" stroke="#222" stroke-width="1.0"/>
<line x1="328.70" y1="400.50" x2="391.70" y2="400.50" stroke="#222" stroke-width="1.3"/>
<line x1="328.70" y1="393.50" x2="421.90" y2="393.50" stroke="#222" stroke-width="1.3"/>
<text x="347.30" y="408.24" font-size="8.0" text-anchor="middle">*</text>
<text x="365.80" y="401.34" font-size="8.0" text-anchor="middle">*</text>
<text x="386.70" y="394.14" font-size="8.0" text-anchor="middle">*</text>
<text x="322.20" y="544.40" font-size="7.6" text-anchor="middle">Co.</text>
<text x="354.00" y="544.40" font-size="7.6" text-anchor="middle">10 µM</text>
<text x="385.80" y="544.40" font-size="7.6" text-anchor="middle">1 µM</text>
<text x="417.40" y="544.40" font-size="7.6" text-anchor="middle">0.1 µM</text>
<text x="449.10" y="544.40" font-size="7.6" text-anchor="middle">0.01 µM</text>
<text x="480.90" y="544.40" font-size="7.6" text-anchor="middle">0.001 µM</text>
<line x1="342.30" y1="549.50" x2="495.80" y2="549.50" stroke="#111" stroke-width="1.1"/>
<text x="417.80" y="560.00" font-size="9.7" text-anchor="middle">GC</text>
<text x="305.60" y="561.10" font-size="8.0" text-anchor="start">*</text>
<text x="312.50" y="562.00" font-size="9.8" font-style="italic">P</text>
<text x="322.30" y="562.00" font-size="9.8" text-anchor="start">&lt;</text>
<text x="331.30" y="562.00" font-size="9.8" text-anchor="start">.05</text>
<text transform="translate(284.60,535.60) rotate(-90)" font-size="9.95">AnnexinV-positive cells (%)</text>
<text transform="translate(2.10,584.30) scale(0.93,1)" font-size="18.7">G</text>
<line x1="36.50" y1="590.40" x2="36.50" y2="730.40" stroke="#111" stroke-width="1.2"/>
<line x1="33.50" y1="729.50" x2="36.50" y2="729.50" stroke="#111" stroke-width="1.1"/>
<text transform="translate(32.10,732.60) scale(0.97,1)" font-size="9.0" text-anchor="end">0</text>
<line x1="33.50" y1="704.50" x2="36.50" y2="704.50" stroke="#111" stroke-width="1.1"/>
<text transform="translate(32.10,707.24) scale(0.97,1)" font-size="9.0" text-anchor="end">10</text>
<line x1="33.50" y1="679.50" x2="36.50" y2="679.50" stroke="#111" stroke-width="1.1"/>
<text transform="translate(32.10,681.88) scale(0.97,1)" font-size="9.0" text-anchor="end">20</text>
<line x1="33.50" y1="653.50" x2="36.50" y2="653.50" stroke="#111" stroke-width="1.1"/>
<text transform="translate(32.10,656.52) scale(0.97,1)" font-size="9.0" text-anchor="end">30</text>
<line x1="33.50" y1="628.50" x2="36.50" y2="628.50" stroke="#111" stroke-width="1.1"/>
<text transform="translate(32.10,631.16) scale(0.97,1)" font-size="9.0" text-anchor="end">40</text>
<line x1="33.50" y1="603.50" x2="36.50" y2="603.50" stroke="#111" stroke-width="1.1"/>
<text transform="translate(32.10,605.80) scale(0.97,1)" font-size="9.0" text-anchor="end">50</text>
<line x1="34.90" y1="717.50" x2="36.50" y2="717.50" stroke="#111" stroke-width="1.0"/>
<line x1="34.90" y1="691.50" x2="36.50" y2="691.50" stroke="#111" stroke-width="1.0"/>
<line x1="34.90" y1="666.50" x2="36.50" y2="666.50" stroke="#111" stroke-width="1.0"/>
<line x1="34.90" y1="641.50" x2="36.50" y2="641.50" stroke="#111" stroke-width="1.0"/>
<line x1="34.90" y1="615.50" x2="36.50" y2="615.50" stroke="#111" stroke-width="1.0"/>
<line x1="36.50" y1="730.50" x2="226.60" y2="730.50" stroke="#111" stroke-width="1.2"/>
<line x1="36.50" y1="730.00" x2="36.50" y2="732.20" stroke="#111" stroke-width="1.0"/>
<line x1="52.50" y1="730.00" x2="52.50" y2="732.20" stroke="#111" stroke-width="1.0"/>
<line x1="68.50" y1="730.00" x2="68.50" y2="732.20" stroke="#111" stroke-width="1.0"/>
<line x1="84.50" y1="730.00" x2="84.50" y2="732.20" stroke="#111" stroke-width="1.0"/>
<line x1="100.50" y1="730.00" x2="100.50" y2="732.20" stroke="#111" stroke-width="1.0"/>
<line x1="116.50" y1="730.00" x2="116.50" y2="732.20" stroke="#111" stroke-width="1.0"/>
<line x1="132.50" y1="730.00" x2="132.50" y2="732.20" stroke="#111" stroke-width="1.0"/>
<line x1="147.50" y1="730.00" x2="147.50" y2="732.20" stroke="#111" stroke-width="1.0"/>
<line x1="163.50" y1="730.00" x2="163.50" y2="732.20" stroke="#111" stroke-width="1.0"/>
<line x1="179.50" y1="730.00" x2="179.50" y2="732.20" stroke="#111" stroke-width="1.0"/>
<line x1="195.50" y1="730.00" x2="195.50" y2="732.20" stroke="#111" stroke-width="1.0"/>
<line x1="211.50" y1="730.00" x2="211.50" y2="732.20" stroke="#111" stroke-width="1.0"/>
<line x1="226.50" y1="730.00" x2="226.50" y2="732.20" stroke="#111" stroke-width="1.0"/>
<line x1="45.50" y1="719.80" x2="45.50" y2="721.00" stroke="#666" stroke-width="1.0"/>
<line x1="44.30" y1="719.50" x2="47.50" y2="719.50" stroke="#666" stroke-width="1.0"/>
<rect x="39.90" y="721.50" width="12.00" height="8.40" fill="#fff" stroke="#000" stroke-width="1.0"/>
<line x1="58.50" y1="607.70" x2="58.50" y2="616.00" stroke="#222" stroke-width="1.0"/>
<line x1="57.30" y1="607.50" x2="60.50" y2="607.50" stroke="#222" stroke-width="1.0"/>
<rect x="52.40" y="616.00" width="13.00" height="113.90" fill="#000"/>
<line x1="77.50" y1="724.80" x2="77.50" y2="726.00" stroke="#666" stroke-width="1.0"/>
<line x1="76.10" y1="724.50" x2="79.30" y2="724.50" stroke="#666" stroke-width="1.0"/>
<rect x="71.70" y="726.50" width="12.00" height="3.40" fill="#fff" stroke="#000" stroke-width="1.0"/>
<line x1="90.50" y1="660.00" x2="90.50" y2="669.40" stroke="#222" stroke-width="1.0"/>
<line x1="89.10" y1="660.50" x2="92.30" y2="660.50" stroke="#222" stroke-width="1.0"/>
<rect x="84.20" y="669.40" width="13.00" height="60.50" fill="#000"/>
<line x1="109.50" y1="724.30" x2="109.50" y2="725.50" stroke="#666" stroke-width="1.0"/>
<line x1="108.00" y1="724.50" x2="111.20" y2="724.50" stroke="#666" stroke-width="1.0"/>
<rect x="103.60" y="726.00" width="12.00" height="3.90" fill="#fff" stroke="#000" stroke-width="1.0"/>
<line x1="122.50" y1="652.60" x2="122.50" y2="667.60" stroke="#222" stroke-width="1.0"/>
<line x1="121.00" y1="652.50" x2="124.20" y2="652.50" stroke="#222" stroke-width="1.0"/>
<rect x="116.10" y="667.60" width="13.00" height="62.30" fill="#000"/>
<line x1="141.50" y1="725.00" x2="141.50" y2="726.20" stroke="#666" stroke-width="1.0"/>
<line x1="139.70" y1="725.50" x2="142.90" y2="725.50" stroke="#666" stroke-width="1.0"/>
<rect x="135.30" y="726.70" width="12.00" height="3.20" fill="#fff" stroke="#000" stroke-width="1.0"/>
<line x1="154.50" y1="657.80" x2="154.50" y2="671.50" stroke="#222" stroke-width="1.0"/>
<line x1="152.70" y1="657.50" x2="155.90" y2="657.50" stroke="#222" stroke-width="1.0"/>
<rect x="147.80" y="671.50" width="13.00" height="58.40" fill="#000"/>
<line x1="172.50" y1="722.70" x2="172.50" y2="723.90" stroke="#666" stroke-width="1.0"/>
<line x1="171.30" y1="722.50" x2="174.50" y2="722.50" stroke="#666" stroke-width="1.0"/>
<rect x="166.90" y="724.40" width="12.00" height="5.50" fill="#fff" stroke="#000" stroke-width="1.0"/>
<line x1="185.50" y1="632.30" x2="185.50" y2="645.40" stroke="#222" stroke-width="1.0"/>
<line x1="184.30" y1="632.50" x2="187.50" y2="632.50" stroke="#222" stroke-width="1.0"/>
<rect x="179.40" y="645.40" width="13.00" height="84.50" fill="#000"/>
<line x1="204.50" y1="720.00" x2="204.50" y2="721.20" stroke="#666" stroke-width="1.0"/>
<line x1="202.90" y1="720.50" x2="206.10" y2="720.50" stroke="#666" stroke-width="1.0"/>
<rect x="198.50" y="721.70" width="12.00" height="8.20" fill="#fff" stroke="#000" stroke-width="1.0"/>
<line x1="217.50" y1="606.80" x2="217.50" y2="618.60" stroke="#222" stroke-width="1.0"/>
<line x1="215.90" y1="606.50" x2="219.10" y2="606.50" stroke="#222" stroke-width="1.0"/>
<rect x="211.00" y="618.60" width="13.00" height="111.30" fill="#000"/>
<line x1="59.20" y1="603.50" x2="89.40" y2="603.50" stroke="#222" stroke-width="1.3"/>
<line x1="59.20" y1="596.50" x2="121.70" y2="596.50" stroke="#222" stroke-width="1.3"/>
<line x1="59.20" y1="589.50" x2="152.10" y2="589.50" stroke="#222" stroke-width="1.3"/>
<text x="77.90" y="604.24" font-size="8.0" text-anchor="middle">*</text>
<text x="95.90" y="597.14" font-size="8.0" text-anchor="middle">*</text>
<text x="116.80" y="589.94" font-size="8.0" text-anchor="middle">*</text>
<text x="52.70" y="740.50" font-size="7.6" text-anchor="middle">Co.</text>
<text x="84.50" y="740.50" font-size="7.6" text-anchor="middle">10 µM</text>
<text x="116.40" y="740.50" font-size="7.6" text-anchor="middle">1 µM</text>
<text x="148.10" y="740.50" font-size="7.6" text-anchor="middle">0.1 µM</text>
<text x="179.70" y="740.50" font-size="7.6" text-anchor="middle">0.01 µM</text>
<text x="211.30" y="740.50" font-size="7.6" text-anchor="middle">0.001 µM</text>
<line x1="72.70" y1="745.50" x2="225.70" y2="745.50" stroke="#111" stroke-width="1.1"/>
<text x="148.50" y="756.20" font-size="9.7" text-anchor="middle">GC</text>
<text x="35.80" y="757.90" font-size="8.0" text-anchor="start">*</text>
<text x="42.70" y="758.80" font-size="9.8" font-style="italic">P</text>
<text x="52.50" y="758.80" font-size="9.8" text-anchor="start">&lt;</text>
<text x="61.50" y="758.80" font-size="9.8" text-anchor="start">.05</text>
<text transform="translate(14.50,732.20) rotate(-90)" font-size="9.95">AnnexinV-positive cells (%)</text>
<text transform="translate(277.00,581.80) scale(0.93,1)" font-size="18.7">H</text>
<line x1="308.50" y1="586.20" x2="308.50" y2="731.90" stroke="#111" stroke-width="1.2"/>
<line x1="305.10" y1="731.50" x2="308.10" y2="731.50" stroke="#111" stroke-width="1.1"/>
<text transform="translate(303.70,734.10) scale(0.97,1)" font-size="9.0" text-anchor="end">0</text>
<line x1="305.10" y1="704.50" x2="308.10" y2="704.50" stroke="#111" stroke-width="1.1"/>
<text transform="translate(303.70,707.66) scale(0.97,1)" font-size="9.0" text-anchor="end">10</text>
<line x1="305.10" y1="678.50" x2="308.10" y2="678.50" stroke="#111" stroke-width="1.1"/>
<text transform="translate(303.70,681.22) scale(0.97,1)" font-size="9.0" text-anchor="end">20</text>
<line x1="305.10" y1="652.50" x2="308.10" y2="652.50" stroke="#111" stroke-width="1.1"/>
<text transform="translate(303.70,654.78) scale(0.97,1)" font-size="9.0" text-anchor="end">30</text>
<line x1="305.10" y1="625.50" x2="308.10" y2="625.50" stroke="#111" stroke-width="1.1"/>
<text transform="translate(303.70,628.34) scale(0.97,1)" font-size="9.0" text-anchor="end">40</text>
<line x1="305.10" y1="599.50" x2="308.10" y2="599.50" stroke="#111" stroke-width="1.1"/>
<text transform="translate(303.70,601.90) scale(0.97,1)" font-size="9.0" text-anchor="end">50</text>
<line x1="306.50" y1="718.50" x2="308.10" y2="718.50" stroke="#111" stroke-width="1.0"/>
<line x1="306.50" y1="691.50" x2="308.10" y2="691.50" stroke="#111" stroke-width="1.0"/>
<line x1="306.50" y1="665.50" x2="308.10" y2="665.50" stroke="#111" stroke-width="1.0"/>
<line x1="306.50" y1="638.50" x2="308.10" y2="638.50" stroke="#111" stroke-width="1.0"/>
<line x1="306.50" y1="612.50" x2="308.10" y2="612.50" stroke="#111" stroke-width="1.0"/>
<line x1="308.10" y1="731.50" x2="518.70" y2="731.50" stroke="#111" stroke-width="1.2"/>
<line x1="308.50" y1="731.50" x2="308.50" y2="733.70" stroke="#111" stroke-width="1.0"/>
<line x1="334.50" y1="731.50" x2="334.50" y2="733.70" stroke="#111" stroke-width="1.0"/>
<line x1="360.50" y1="731.50" x2="360.50" y2="733.70" stroke="#111" stroke-width="1.0"/>
<line x1="386.50" y1="731.50" x2="386.50" y2="733.70" stroke="#111" stroke-width="1.0"/>
<line x1="413.50" y1="731.50" x2="413.50" y2="733.70" stroke="#111" stroke-width="1.0"/>
<line x1="439.50" y1="731.50" x2="439.50" y2="733.70" stroke="#111" stroke-width="1.0"/>
<line x1="465.50" y1="731.50" x2="465.50" y2="733.70" stroke="#111" stroke-width="1.0"/>
<line x1="491.50" y1="731.50" x2="491.50" y2="733.70" stroke="#111" stroke-width="1.0"/>
<line x1="518.50" y1="731.50" x2="518.50" y2="733.70" stroke="#111" stroke-width="1.0"/>
<line x1="323.50" y1="718.60" x2="323.50" y2="720.20" stroke="#222" stroke-width="1.0"/>
<line x1="322.15" y1="718.50" x2="325.35" y2="718.50" stroke="#222" stroke-width="1.0"/>
<rect x="313.50" y="720.70" width="20.50" height="10.70" fill="#fff" stroke="#000" stroke-width="1.0"/>
<line x1="345.50" y1="606.30" x2="345.50" y2="620.20" stroke="#222" stroke-width="1.0"/>
<line x1="343.50" y1="606.50" x2="346.70" y2="606.50" stroke="#222" stroke-width="1.0"/>
<rect x="334.50" y="620.20" width="21.20" height="111.20" fill="#000"/>
<line x1="376.50" y1="726.60" x2="376.50" y2="727.50" stroke="#222" stroke-width="1.0"/>
<line x1="374.45" y1="726.50" x2="377.65" y2="726.50" stroke="#222" stroke-width="1.0"/>
<rect x="365.80" y="728.00" width="20.50" height="3.40" fill="#fff" stroke="#000" stroke-width="1.0"/>
<line x1="397.50" y1="693.00" x2="397.50" y2="697.10" stroke="#222" stroke-width="1.0"/>
<line x1="395.80" y1="693.50" x2="399.00" y2="693.50" stroke="#222" stroke-width="1.0"/>
<rect x="386.80" y="697.10" width="21.20" height="34.30" fill="#000"/>
<line x1="428.50" y1="726.00" x2="428.50" y2="727.00" stroke="#222" stroke-width="1.0"/>
<line x1="426.95" y1="726.50" x2="430.15" y2="726.50" stroke="#222" stroke-width="1.0"/>
<rect x="418.30" y="727.50" width="20.50" height="3.90" fill="#fff" stroke="#000" stroke-width="1.0"/>
<line x1="449.50" y1="687.70" x2="449.50" y2="693.90" stroke="#222" stroke-width="1.0"/>
<line x1="448.30" y1="687.50" x2="451.50" y2="687.50" stroke="#222" stroke-width="1.0"/>
<rect x="439.30" y="693.90" width="21.20" height="37.50" fill="#000"/>
<line x1="481.50" y1="725.60" x2="481.50" y2="726.70" stroke="#222" stroke-width="1.0"/>
<line x1="479.45" y1="725.50" x2="482.65" y2="725.50" stroke="#222" stroke-width="1.0"/>
<rect x="470.80" y="727.20" width="20.50" height="4.20" fill="#fff" stroke="#000" stroke-width="1.0"/>
<line x1="502.50" y1="665.60" x2="502.50" y2="677.70" stroke="#222" stroke-width="1.0"/>
<line x1="500.80" y1="665.50" x2="504.00" y2="665.50" stroke="#222" stroke-width="1.0"/>
<rect x="491.80" y="677.70" width="21.20" height="53.70" fill="#000"/>
<line x1="344.50" y1="604.50" x2="397.10" y2="604.50" stroke="#222" stroke-width="1.3"/>
<line x1="344.50" y1="596.50" x2="450.10" y2="596.50" stroke="#222" stroke-width="1.3"/>
<line x1="344.50" y1="589.50" x2="501.60" y2="589.50" stroke="#222" stroke-width="1.3"/>
<text x="370.50" y="603.24" font-size="8.0" text-anchor="middle">*</text>
<text x="398.80" y="595.64" font-size="8.0" text-anchor="middle">*</text>
<text x="423.10" y="588.74" font-size="8.0" text-anchor="middle">*</text>
<text x="334.70" y="743.70" font-size="9.7" text-anchor="middle">Co</text>
<text x="387.00" y="743.70" font-size="9.7" text-anchor="middle">DEX</text>
<text x="439.50" y="743.70" font-size="9.7" text-anchor="middle">MP</text>
<text x="492.00" y="743.70" font-size="9.7" text-anchor="middle">T</text>
<text x="307.40" y="755.40" font-size="8.0" text-anchor="start">*</text>
<text x="314.30" y="756.30" font-size="9.8" font-style="italic">P</text>
<text x="324.10" y="756.30" font-size="9.8" text-anchor="start">&lt;</text>
<text x="333.10" y="756.30" font-size="9.8" text-anchor="start">.05</text>
<text transform="translate(286.00,730.60) rotate(-90)" font-size="9.95">AnnexinV-positive cells (%)</text>
</svg>
</body></html>
